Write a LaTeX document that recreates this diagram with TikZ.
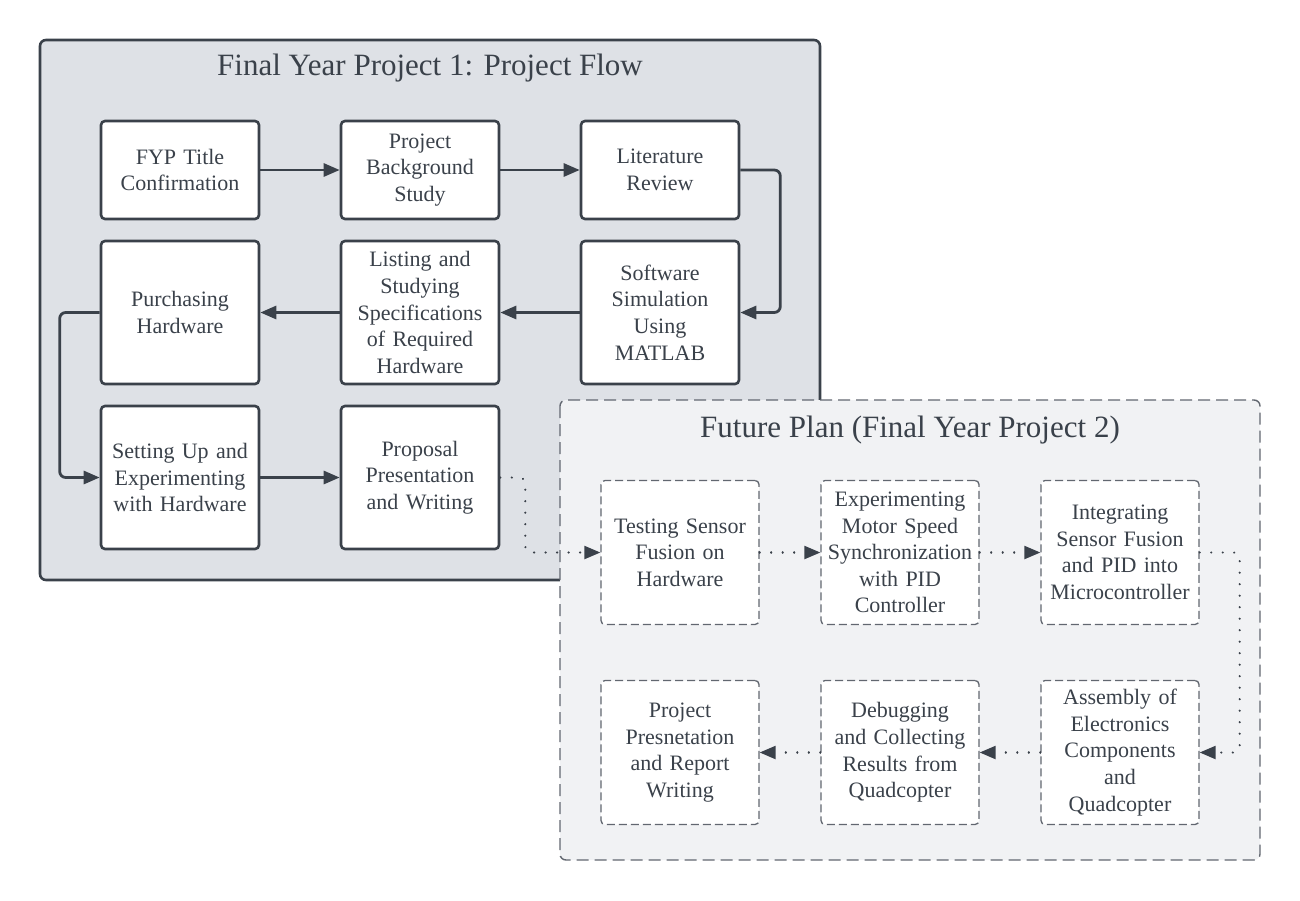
\documentclass[tikz,border=0pt]{standalone}
\usepackage{fontspec}
\setmainfont{Liberation Serif}
\usetikzlibrary{arrows.meta}

\definecolor{inkc}{HTML}{3A414A}
\definecolor{paneone}{HTML}{DEE1E6}
\definecolor{panetwo}{HTML}{F1F2F4}
\definecolor{dashc}{HTML}{626770}

\tikzset{
    stepbox/.style={rectangle, rounded corners=2pt, draw=inkc, line width=1.3pt, fill=white,
        minimum width=79pt, text width=74pt, inner xsep=2pt, align=center, text=inkc,
        font=\fontsize{11}{13.3}\selectfont},
    planbox/.style={stepbox, draw=dashc, line width=0.65pt, dash pattern=on 4pt off 2pt},
    flow/.style={draw=inkc, line width=1.4pt, rounded corners=3pt, -{Triangle[length=8pt,width=6.5pt]}},
    plan/.style={draw=inkc, line width=1.1pt, dash pattern=on 0.05pt off 5.7pt, line cap=round,
        rounded corners=3pt, -{Triangle[length=8pt,width=6.5pt]}},
}

\begin{document}
\begin{tikzpicture}[x=0.5pt,y=-0.5pt]
            \useasboundingbox (0,0) rectangle (1300,900);
            % first project panel
            \draw[fill=paneone, draw=inkc, line width=1.3pt, rounded corners=3pt] (40,40) rectangle (820,580);
            \node[text=inkc, font=\fontsize{15.5}{18}\selectfont] (titleone) at (430,68) {Final Year Project 1: Project Flow};
            % second project panel
            \draw[fill=panetwo, draw=dashc, line width=0.7pt, dash pattern=on 6pt off 3pt, rounded corners=3pt] (560,400) rectangle (1260,860);
            \node[text=inkc, font=\fontsize{15.5}{18}\selectfont] (titletwo) at (910,430) {Future Plan (Final Year Project 2)};

            \node[stepbox, minimum height=49pt] (fyp) at (180,170) {FYP Title\\Confirmation};
            \node[stepbox, minimum height=49pt] (bg) at (420,170) {Project\\Background\\Study};
            \node[stepbox, minimum height=49pt] (lit) at (660,170) {Literature\\Review};
            \node[stepbox, minimum height=71.5pt] (sim) at (660,312.5) {Software\\Simulation\\Using\\MATLAB};
            \node[stepbox, minimum height=71.5pt] (spec) at (420,312.5) {Listing and\\Studying\\Specifications\\of Required\\Hardware};
            \node[stepbox, minimum height=71.5pt] (buy) at (180,312.5) {Purchasing\\Hardware};
            \node[stepbox, minimum height=71.5pt] (setup) at (180,477.5) {Setting Up and\\Experimenting\\with Hardware};
            \node[stepbox, minimum height=71.5pt] (prop) at (420,477.5) {Proposal\\Presentation\\and Writing};

            \node[planbox, minimum height=72pt] (test) at (680,552.5) {Testing Sensor\\Fusion on\\Hardware};
            \node[planbox, minimum height=72pt] (motor) at (900,552.5) {Experimenting\\Motor Speed\\Synchronization\\with PID\\Controller};
            \node[planbox, minimum height=72pt] (integ) at (1120,552.5) {Integrating\\Sensor Fusion\\and PID into\\Microcontroller};
            \node[planbox, minimum height=72pt] (assem) at (1120,752.5) {Assembly of\\Electronics\\Components\\and\\Quadcopter};
            \node[planbox, minimum height=72pt] (debug) at (900,752.5) {Debugging\\and Collecting\\Results from\\Quadcopter};
            \node[planbox, minimum height=72pt] (report) at (680,752.5) {Project\\Presnetation\\and Report\\Writing};

            \draw[flow] (fyp) -- (bg);
            \draw[flow] (bg) -- (lit);
            \draw[flow] (lit.east) -- ++(40,0) |- (sim.east);
            \draw[flow] (sim) -- (spec);
            \draw[flow] (spec) -- (buy);
            \draw[flow] (buy.west) -- ++(-40,0) |- (setup.west);
            \draw[flow] (setup) -- (prop);

            \draw[plan] (prop.east) -- ++(25,0) |- (test.west);
            \draw[plan] (test) -- (motor);
            \draw[plan] (motor) -- (integ);
            \draw[plan] (integ.east) -- ++(40,0) |- (assem.east);
            \draw[plan] (assem) -- (debug);
            \draw[plan] (debug) -- (report);
        \end{tikzpicture}
\end{document}
